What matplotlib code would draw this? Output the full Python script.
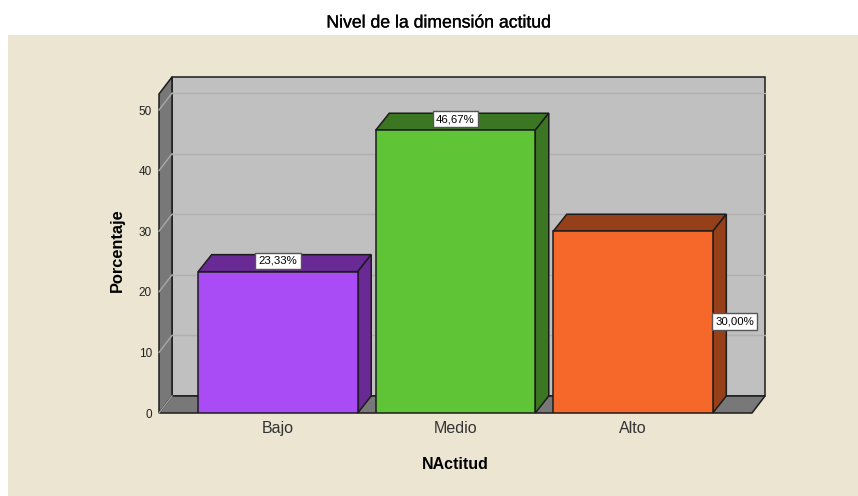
import matplotlib
matplotlib.use("Agg")
import matplotlib.pyplot as plt
import matplotlib.patheffects as pe
from matplotlib.patches import Polygon, Rectangle

plt.rcParams["font.family"] = ["Liberation Sans", "DejaVu Sans"]

# --- Data ---
categories = ["Bajo", "Medio", "Alto"]
values = [23.33, 46.67, 30.00]
labels = ["23,33%", "46,67%", "30,00%"]
y_ticks = [0, 10, 20, 30, 40, 50]

# --- Colours ---
front_colors = ["#a94cf5", "#5fc537", "#f5682a"]
side_colors = ["#692a95", "#3b7722", "#964019"]
BEIGE = "#ebe5d1"
WALL = "#c0c0c0"
WALL_DARK = "#787878"
EDGE = "#1c1c1c"

W, H = 858, 496
fig = plt.figure(figsize=(W / 100, H / 100), dpi=100, facecolor="white")

# beige panel under the title
fig.patches.append(Rectangle((8 / W, 0), 1 - 8 / W, 1 - 35 / H, transform=fig.transFigure,
                             facecolor=BEIGE, edgecolor="none", zorder=-5))

# axes box = front plane of the chart, in pixels
left, right, top, bottom = 159, 752, 94, 413
ax = fig.add_axes([left / W, 1 - bottom / H, (right - left) / W, (bottom - top) / H])
ax.patch.set_visible(False)
ax.set_xlim(-0.67, 2.67)
ax.set_ylim(0, 52.65)

# depth of the 3d effect, in data units
dx = 13.5 / (right - left) * 3.34
dy = 17 / (bottom - top) * 52.65
x0, x1 = ax.get_xlim()
y0, y1 = ax.get_ylim()
wall_dx = 13 / (right - left) * 3.34


def poly(pts, fc, z=1, lw=1.1):
    ax.add_patch(Polygon(pts, closed=True, facecolor=fc, edgecolor=EDGE, linewidth=lw,
                         joinstyle="miter", clip_on=False, zorder=z))


# --- Walls ---
poly([(x0 + wall_dx, y0 + dy), (x1 + wall_dx, y0 + dy), (x1 + wall_dx, y1 + dy), (x0 + wall_dx, y1 + dy)], WALL)
poly([(x0, y0), (x0 + wall_dx, y0 + dy), (x0 + wall_dx, y1 + dy), (x0, y1)], WALL_DARK)
poly([(x0, y0), (x1, y0), (x1 + wall_dx, y0 + dy), (x0 + wall_dx, y0 + dy)], WALL_DARK)

# --- Grid lines on walls ---
for t in y_ticks[1:]:
    ax.plot([x0 + wall_dx, x1 + wall_dx], [t + dy, t + dy], color="#b0b0b0", lw=1, clip_on=False, zorder=2)
    ax.plot([x0, x0 + wall_dx], [t, t + dy], color="#a8a8a8", lw=1, clip_on=False, zorder=2)
ax.plot([x0, x0 + wall_dx], [y0, y0 + dy], color="#a0a0a0", lw=1, clip_on=False, zorder=2)

# --- Bars ---
bar_w = 159.5 / 177.5
for i, v in enumerate(values):
    a, b = i - bar_w / 2, i + bar_w / 2
    poly([(a, v), (b, v), (b + dx, v + dy), (a + dx, v + dy)], side_colors[i], z=3)
    poly([(b, 0), (b + dx, dy), (b + dx, v + dy), (b, v)], side_colors[i], z=3)
    ax.bar(i, v, width=bar_w, color=front_colors[i], edgecolor=EDGE, linewidth=1.1, zorder=4)

# --- Value labels ---
box = dict(boxstyle="square,pad=0.28", facecolor="white", edgecolor="#555555", linewidth=1)
ax.text(0, values[0] + dy / 2 + 0.4, labels[0], ha="center", va="center", fontsize=8.2, bbox=box, zorder=6)
ax.text(1, values[1] + dy / 2 + 0.4, labels[1], ha="center", va="center", fontsize=8.2, bbox=box, zorder=6)
ax.text(2 + bar_w / 2 + dx * 1.62, values[2] * 0.5 + 0.1, labels[2], ha="center", va="center",
        fontsize=8.2, bbox=box, zorder=6)

# --- Axes ---
for s in ax.spines.values():
    s.set_visible(False)
ax.set_yticks(y_ticks)
ax.set_xticks(range(len(categories)))
ax.set_xticklabels(categories, fontsize=11.5, color="#333333")
ax.tick_params(axis="x", length=0, pad=6)
ax.tick_params(axis="y", length=0, pad=5, labelsize=8.5, labelcolor="#222222")
ax.set_ylabel("Porcentaje", fontsize=11.8, fontweight="bold", labelpad=4)
ax.set_xlabel("NActitud", fontsize=11.5, fontweight="bold", labelpad=15)
ax.yaxis.set_label_coords(-0.0573, 0.5 + 3 / (bottom - top))

fig.text(438.5 / W, 1 - 23 / H, "Nivel de la dimensión actitud", ha="center", va="center",
         fontsize=12.7, color="black", path_effects=[pe.withStroke(linewidth=0.2, foreground="black")])

fig.savefig("out.png", dpi=100, facecolor="white")
